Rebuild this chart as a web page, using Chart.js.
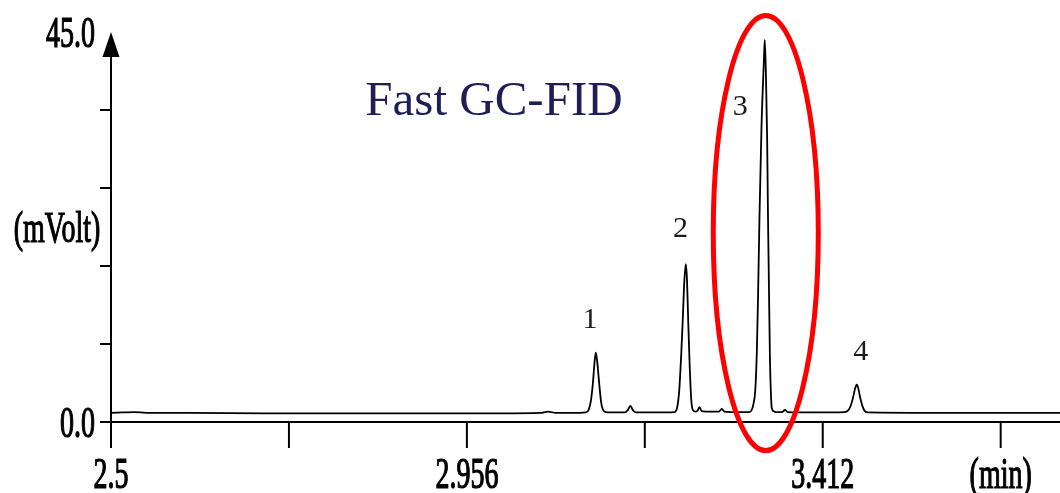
<!DOCTYPE html>
<html>
<head>
<meta charset="utf-8">
<script src="https://cdn.jsdelivr.net/npm/chart.js@4"></script>
<style>
  html, body { margin: 0; background: #fff; }
</style>
</head>
<body>
<canvas id="c" width="1060" height="493"></canvas>
<script>
// Fast GC-FID chromatogram: retention time (min) vs detector signal (mVolt)
const times = [
  2.500, 2.515, 2.530, 2.545, 2.600, 2.700, 2.800, 2.900, 3.000, 3.050, 3.060, 3.070, 3.100,
  3.108, 3.112, 3.115, 3.1175, 3.1195, 3.1212, 3.123, 3.1255, 3.128, 3.130, 3.134,
  3.150, 3.158, 3.162, 3.1655, 3.169, 3.173, 3.200,
  3.222, 3.2255, 3.228, 3.2305, 3.2325, 3.2345, 3.2365, 3.238, 3.2395, 3.2415, 3.2435, 3.2455, 3.249,
  3.251, 3.254, 3.257, 3.262, 3.279, 3.2826, 3.286, 3.300,
  3.318, 3.3215, 3.3235, 3.3255, 3.3275, 3.329, 3.331, 3.3335, 3.3365, 3.3377, 3.3392, 3.3407, 3.3418, 3.3430, 3.3443, 3.3455, 3.3467, 3.349, 3.352,
  3.360, 3.3637, 3.367, 3.400,
  3.440, 3.4445, 3.448, 3.451, 3.4535, 3.4556, 3.4575, 3.460, 3.463, 3.466, 3.470,
  3.550, 3.650, 3.716
];
const signal = [
  1.05, 1.10, 1.15, 1.05, 1.05, 1.00, 1.00, 1.00, 1.00, 1.05, 1.20, 1.05, 1.05,
  1.10, 1.40, 2.50, 4.50, 6.80, 8.00, 7.00, 4.50, 2.30, 1.50, 1.15,
  1.10, 1.10, 1.35, 1.85, 1.35, 1.10, 1.10,
  1.15, 1.70, 3.50, 7.50, 11.5, 16.0, 18.2, 16.5, 12.0, 6.50, 2.60, 1.40, 1.20,
  1.25, 1.70, 1.25, 1.20, 1.20, 1.50, 1.20, 1.15,
  1.15, 1.50, 2.20, 3.60, 8.00, 14.0, 24.0, 34.0, 41.5, 44.1, 40.0, 33.0, 24.0, 16.0, 7.50, 3.50, 1.60, 1.25, 1.15,
  1.15, 1.40, 1.15, 1.10,
  1.15, 1.35, 1.90, 2.90, 3.90, 4.30, 3.90, 2.80, 1.80, 1.25, 1.10,
  1.05, 1.05, 1.05
];

const xMin = 2.5, xMax = 3.716;
const yMin = 0, yMax = 45;
const xTicks = [2.5, 2.728, 2.956, 3.184, 3.412, 3.64];
const xTickLabels = ['2.5', '', '2.956', '', '3.412', '(min)'];
const yTicks = [0, 9, 18, 27, 36, 45];
const yTickLabels = ['0.0', '', '', '', '', '45.0'];
const yTitle = '(mVolt)';
const chartTitle = 'Fast GC-FID';

// peak numbers, placed in data units
const peakLabels = ['1', '2', '3', '4'];
const peakLabelTimes = [3.1138, 3.2297, 3.3064, 3.4606];
const peakLabelValues = [11.8, 22.3, 36.3, 8.1];

// red ellipse round peak 3 (data units)
const ring = { t: 3.339, v: 21.8, rt: 0.0673, rv: 25.1 };

// stretched serif text like the instrument print-out
function tallText(ctx, text, x, y, align) {
  ctx.save();
  ctx.translate(x, y);
  ctx.scale(1, 1.55);
  ctx.textAlign = align;
  ctx.textBaseline = 'alphabetic';
  ctx.fillText(text, 0, 0);
  ctx.strokeText(text, 0, 0);
  ctx.restore();
}

const gcAxes = {
  id: 'gcAxes',
  beforeDatasetsDraw(chart) {
    const { ctx, scales: { x, y } } = chart;
    const x0 = x.getPixelForValue(xMin);
    const y0 = y.getPixelForValue(0);
    const yTop = y.getPixelForValue(yMax);
    ctx.save();
    ctx.strokeStyle = '#000';
    ctx.fillStyle = '#000';
    ctx.lineWidth = 2;
    ctx.beginPath();
    ctx.moveTo(x0, yTop + 20); ctx.lineTo(x0, y0 + 26);
    ctx.moveTo(x0 - 11, y0); ctx.lineTo(chart.width, y0);
    xTicks.forEach(t => {
      const px = x.getPixelForValue(t);
      ctx.moveTo(px, y0); ctx.lineTo(px, y0 + 26);
    });
    yTicks.slice(0, -1).forEach(v => {
      const py = y.getPixelForValue(v);
      ctx.moveTo(x0 - 11, py); ctx.lineTo(x0, py);
    });
    ctx.stroke();
    // arrow head
    ctx.beginPath();
    ctx.moveTo(x0, yTop);
    ctx.lineTo(x0 + 8.5, yTop + 25);
    ctx.lineTo(x0 - 8.5, yTop + 25);
    ctx.closePath();
    ctx.fill();

    ctx.font = '28px "Liberation Serif"';
    ctx.lineWidth = 0.8;
    xTicks.forEach((t, i) => {
      if (xTickLabels[i]) tallText(ctx, xTickLabels[i], x.getPixelForValue(t), 488, 'center');
    });
    yTicks.forEach((v, i) => {
      if (yTickLabels[i]) tallText(ctx, yTickLabels[i], 95, y.getPixelForValue(v) + 15, 'right');
    });
    tallText(ctx, yTitle, 57, 242, 'center');
    ctx.restore();
  },
  afterDraw(chart) {
    const { ctx, scales: { x, y } } = chart;
    ctx.save();
    // title
    ctx.fillStyle = '#1f1f55';
    ctx.font = '49px "Liberation Serif"';
    ctx.textAlign = 'center';
    ctx.textBaseline = 'alphabetic';
    ctx.fillText(chartTitle, 494, 115);
    // peak numbers
    ctx.fillStyle = '#1a1a1a';
    ctx.font = '30px "Liberation Serif"';
    ctx.textBaseline = 'middle';
    peakLabels.forEach((s, i) => {
      ctx.fillText(s, x.getPixelForValue(peakLabelTimes[i]), y.getPixelForValue(peakLabelValues[i]));
    });
    // ellipse
    const cx = x.getPixelForValue(ring.t), cy = y.getPixelForValue(ring.v);
    const rx = x.getPixelForValue(ring.t + ring.rt) - cx;
    const ry = cy - y.getPixelForValue(ring.v + ring.rv);
    ctx.strokeStyle = '#ff0000';
    ctx.lineWidth = 5;
    ctx.beginPath();
    ctx.ellipse(cx, cy, rx, ry, 0, 0, Math.PI * 2);
    ctx.stroke();
    ctx.restore();
  }
};

new Chart(document.getElementById('c'), {
  type: 'line',
  data: {
    datasets: [{
      data: times.map((t, i) => ({ x: t, y: signal[i] })),
      borderColor: '#000',
      borderWidth: 1.8,
      pointRadius: 0,
      cubicInterpolationMode: 'monotone',
      fill: false
    }]
  },
  options: {
    responsive: false,
    animation: false,
    devicePixelRatio: 1,
    layout: { padding: { left: 111, right: 0, top: 32, bottom: 71 } },
    plugins: { legend: { display: false }, tooltip: { enabled: false } },
    scales: {
      x: { type: 'linear', min: xMin, max: xMax, display: false },
      y: { min: yMin, max: yMax, display: false }
    }
  },
  plugins: [gcAxes]
});
</script>
</body>
</html>
